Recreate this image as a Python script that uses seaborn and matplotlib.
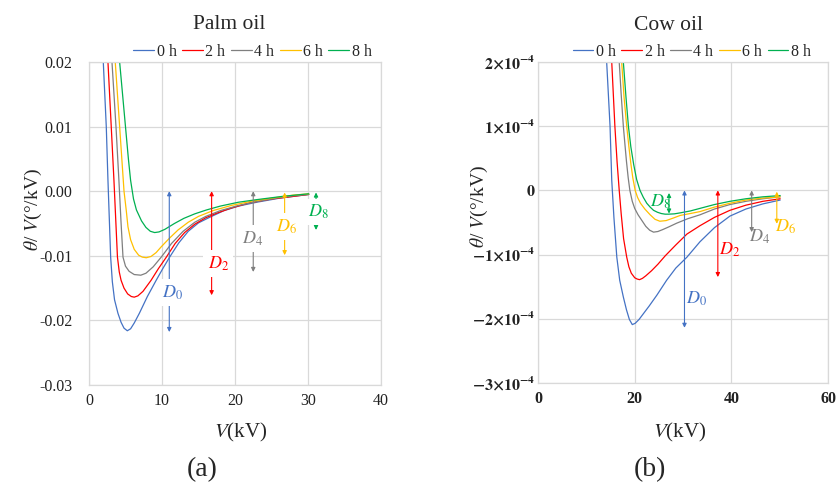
import matplotlib
matplotlib.use("Agg")
import matplotlib.pyplot as plt
import pandas as pd
import seaborn as sns

# ---- data ------------------------------------------------------------------
hours = ["0 h", "2 h", "4 h", "6 h", "8 h"]
colors = ["#4472C4", "#FF0000", "#7F7F7F", "#FFC000", "#00B050"]

# Palm oil, theta/V in deg/kV
palm_0h_v = [1.96, 2.37, 2.6, 2.97, 3.2, 3.5, 3.97, 4.4, 4.8, 5.25, 5.7, 6.2, 6.9, 8.0, 9.2, 10.1, 11.05, 12.3, 13.6, 15.0, 16.6, 18.5, 20.5, 23.0, 26.0, 28.0, 30.1]
palm_0h_y = [0.020, 0.010, 0.0017, -0.0102, -0.0140, -0.0168, -0.0189, -0.0203, -0.0212, -0.0216, -0.0213, -0.0204, -0.0189, -0.0163, -0.0138, -0.0120, -0.0102, -0.0080, -0.0062, -0.0049, -0.0040, -0.0030, -0.0023, -0.0017, -0.0011, -0.0008, -0.0005]
palm_2h_v = [2.6, 3.05, 3.42, 3.9, 4.15, 4.4, 4.8, 5.3, 5.8, 6.2, 6.7, 7.4, 8.5, 9.5, 10.6, 11.8, 13.1, 14.5, 16.0, 17.5, 19.5, 22.0, 25.0, 28.0, 30.1]
palm_2h_y = [0.020, 0.010, 0.0017, -0.0102, -0.0125, -0.0138, -0.0150, -0.0159, -0.0163, -0.0164, -0.0162, -0.0155, -0.0138, -0.0120, -0.0102, -0.0081, -0.0064, -0.0051, -0.0041, -0.0034, -0.0026, -0.0018, -0.0012, -0.0008, -0.0005]
palm_4h_v = [3.15, 3.7, 4.1, 4.4, 4.66, 5.0, 5.5, 6.2, 7.1, 7.8, 8.8, 9.9, 11.3, 12.9, 14.5, 16.0, 18.0, 20.5, 23.0, 26.0, 28.0, 30.1]
palm_4h_y = [0.020, 0.010, 0.0017, -0.0050, -0.0102, -0.0116, -0.0124, -0.0129, -0.0130, -0.0127, -0.0117, -0.0102, -0.0081, -0.0062, -0.0048, -0.0039, -0.0030, -0.0022, -0.0016, -0.0010, -0.0007, -0.0005]
palm_6h_v = [3.6, 4.2, 4.8, 5.1, 5.34, 5.7, 6.2, 6.8, 7.3, 7.85, 8.5, 9.2, 9.9, 11.0, 12.2, 13.6, 15.0, 17.0, 19.5, 22.5, 25.5, 28.0, 30.1]
palm_6h_y = [0.020, 0.010, 0.000, -0.0029, -0.0055, -0.0075, -0.0090, -0.0099, -0.0102, -0.0103, -0.0101, -0.0095, -0.0086, -0.0073, -0.0060, -0.0048, -0.0039, -0.0030, -0.0022, -0.0015, -0.0010, -0.0006, -0.0004]
palm_8h_v = [4.2, 4.6, 5.0, 5.4, 5.7, 6.1, 6.5, 7.2, 7.8, 8.4, 9.0, 9.6, 10.4, 11.7, 13.0, 14.5, 16.1, 18.0, 20.5, 23.0, 26.5, 30.1]
palm_8h_y = [0.020, 0.015, 0.010, 0.005, 0.0017, -0.0012, -0.0029, -0.0046, -0.0056, -0.0062, -0.0064, -0.0063, -0.0059, -0.0050, -0.0042, -0.0035, -0.0029, -0.0023, -0.0017, -0.0013, -0.0008, -0.0004]

# Cow oil, theta/V in units of 1e-4 deg/kV
cow_0h_v = [14.2, 14.9, 15.25, 15.7, 16.3, 16.9, 17.65, 18.3, 18.9, 19.5, 20.1, 20.9, 21.8, 23.0, 24.6, 26.6, 28.5, 30.8, 33.5, 36.5, 39.7, 43.0, 46.5, 50.1]
cow_0h_y = [2.0, 1.0, 0.16, -0.42, -1.04, -1.40, -1.66, -1.86, -2.01, -2.09, -2.07, -2.01, -1.92, -1.80, -1.63, -1.40, -1.21, -1.04, -0.80, -0.58, -0.40, -0.29, -0.21, -0.15]
cow_2h_v = [15.25, 15.9, 16.35, 16.8, 17.2, 17.7, 18.35, 18.8, 19.3, 20.0, 20.5, 21.0, 21.6, 22.3, 23.5, 24.8, 26.3, 28.5, 30.8, 33.5, 36.5, 39.7, 43.0, 46.5, 50.1]
cow_2h_y = [2.0, 1.0, 0.45, 0.0, -0.36, -0.75, -1.04, -1.19, -1.29, -1.36, -1.38, -1.39, -1.37, -1.33, -1.25, -1.15, -1.02, -0.85, -0.68, -0.55, -0.42, -0.31, -0.23, -0.17, -0.13]
cow_4h_v = [16.8, 17.2, 17.65, 18.0, 18.3, 18.65, 19.0, 19.5, 20.0, 20.7, 21.5, 22.3, 23.1, 23.9, 24.8, 25.8, 27.0, 28.7, 31.0, 33.5, 36.5, 39.7, 43.0, 46.5, 50.1]
cow_4h_y = [2.0, 1.5, 1.0, 0.7, 0.45, 0.2, 0.0, -0.17, -0.28, -0.38, -0.47, -0.56, -0.62, -0.65, -0.64, -0.61, -0.57, -0.51, -0.44, -0.38, -0.29, -0.22, -0.17, -0.13, -0.10]
cow_6h_v = [17.3, 17.8, 18.35, 18.8, 19.2, 19.6, 20.1, 20.6, 21.2, 22.1, 23.2, 24.2, 25.2, 26.5, 28.0, 29.4, 31.5, 33.5, 36.5, 39.7, 43.0, 46.5, 50.1]
cow_6h_y = [2.0, 1.45, 1.0, 0.68, 0.42, 0.2, 0.0, -0.11, -0.20, -0.29, -0.38, -0.45, -0.48, -0.47, -0.43, -0.39, -0.36, -0.33, -0.26, -0.20, -0.15, -0.12, -0.10]
cow_8h_v = [17.65, 18.2, 18.7, 19.2, 19.8, 20.4, 21.1, 21.8, 22.5, 23.2, 23.9, 24.7, 25.5, 26.3, 27.0, 28.2, 29.4, 31.5, 33.5, 36.5, 39.7, 43.0, 46.5, 50.1]
cow_8h_y = [2.0, 1.45, 1.0, 0.68, 0.40, 0.17, 0.0, -0.11, -0.20, -0.26, -0.31, -0.34, -0.36, -0.37, -0.37, -0.365, -0.35, -0.32, -0.28, -0.22, -0.17, -0.13, -0.10, -0.08]

# D_n arrows: x position, top, bottom, label position
palm_arrow_x = [11.0, 16.8, 22.5, 26.8, 31.1]
palm_arrow_top = [0.0, 0.0, 0.0, -0.0002, -0.0002]
palm_arrow_bot = [-0.0218, -0.0161, -0.0125, -0.0099, -0.0060]
palm_label_x = [11.5, 17.7, 22.4, 27.1, 31.4]
palm_label_y = [-0.0157, -0.0112, -0.0073, -0.0055, -0.0032]

cow_arrow_x = [30.3, 37.2, 44.2, 49.4, 27.1]
cow_arrow_top = [0.0, 0.0, 0.0, -0.02, -0.04]
cow_arrow_bot = [-2.14, -1.35, -0.65, -0.52, -0.36]
cow_label_x = [32.8, 39.6, 45.8, 51.3, 25.4]
cow_label_y = [-1.69, -0.93, -0.72, -0.57, -0.17]

palm_yticks = [0.02, 0.01, 0.0, -0.01, -0.02, -0.03]
palm_ylabels = ["0.02", "0.01", "0.00", "-0.01", "-0.02", "-0.03"]
palm_xticks = [0, 10, 20, 30, 40]
cow_yticks = [2, 1, 0, -1, -2, -3]
cow_ylabels = [r"$\mathbf{2{\times}10^{-4}}$", r"$\mathbf{1{\times}10^{-4}}$", r"$\mathbf{0}$",
               r"$\mathbf{-1{\times}10^{-4}}$", r"$\mathbf{-2{\times}10^{-4}}$", r"$\mathbf{-3{\times}10^{-4}}$"]
cow_xticks = [0, 20, 40, 60]


def long_table(vs, ys):
    rows = []
    for h, v, y in zip(hours, vs, ys):
        rows += [{"V": a, "val": b, "hour": h} for a, b in zip(v, y)]
    return pd.DataFrame(rows)


palm = long_table([palm_0h_v, palm_2h_v, palm_4h_v, palm_6h_v, palm_8h_v],
                  [palm_0h_y, palm_2h_y, palm_4h_y, palm_6h_y, palm_8h_y])
cow = long_table([cow_0h_v, cow_2h_v, cow_4h_v, cow_6h_v, cow_8h_v],
                 [cow_0h_y, cow_2h_y, cow_4h_y, cow_6h_y, cow_8h_y])

sns.set_style("white")
plt.rcParams["font.family"] = ["Liberation Serif", "DejaVu Serif"]
plt.rcParams["mathtext.fontset"] = "stix"

fig = plt.figure(figsize=(8.37, 4.86), dpi=100)
ax1 = fig.add_axes([0.1063, 0.2078, 0.3489, 0.6646])
ax2 = fig.add_axes([0.6428, 0.2119, 0.3465, 0.6605])

grid = "#d9d9d9"
for ax, df in ((ax1, palm), (ax2, cow)):
    sns.lineplot(data=df, x="V", y="val", hue="hour", palette=colors, estimator=None,
                 sort=False, lw=0.9, ax=ax)
    ax.grid(True, color=grid, lw=0.9)
    for s in ax.spines.values():
        s.set_color(grid)
        s.set_linewidth(0.9)
    ax.tick_params(length=0, labelsize=11.5, colors="#222222")
    ax.set_xlabel("")
    ax.set_ylabel("")

ax1.set_xlim(0, 40)
ax1.set_ylim(-0.03, 0.02)
ax1.set_xticks(palm_xticks)
ax1.set_yticks(palm_yticks)
ax1.set_yticklabels(palm_ylabels)
ax1.tick_params(axis="y", pad=12)
ax1.tick_params(axis="x", pad=6)

ax2.set_xlim(0, 60)
ax2.set_ylim(-3, 2)
ax2.set_xticks(cow_xticks)
ax2.set_yticks(cow_yticks)
ax2.set_yticklabels(cow_ylabels)
ax2.tick_params(axis="y", pad=2)
ax2.tick_params(axis="x", pad=6)
for t in ax2.get_xticklabels():
    t.set_fontweight("bold")

for ax, xs, tops, bots, lx, ly, boxed in (
        (ax1, palm_arrow_x, palm_arrow_top, palm_arrow_bot, palm_label_x, palm_label_y, True),
        (ax2, cow_arrow_x, cow_arrow_top, cow_arrow_bot, cow_label_x, cow_label_y, False)):
    for i, c in enumerate(colors):
        ax.annotate("", xy=(xs[i], bots[i]), xytext=(xs[i], tops[i]),
                    arrowprops=dict(arrowstyle="<|-|>", color=c, lw=0.8,
                                    mutation_scale=6, shrinkA=0, shrinkB=0))
        bbox = dict(facecolor="white", edgecolor="none", pad=3) if boxed else None
        ax.text(lx[i], ly[i], rf"$D_{{{2 * i}}}$", color=c, fontsize=13,
                ha="center", va="center", bbox=bbox)

for ax, tx, title, lgx in ((ax1, 0.48, "Palm oil", 0.56), (ax2, 0.45, "Cow oil", 0.53)):
    ax.text(tx, 1.115, title, transform=ax.transAxes, ha="center", va="center", fontsize=15.5)
    sns.move_legend(ax, "center", bbox_to_anchor=(lgx, 1.031), ncol=5, frameon=False,
                    title=None, fontsize=11.5, handlelength=1.3, handletextpad=0.15,
                    columnspacing=0.35, borderaxespad=0)

ylab = r"$\theta$/ $V$(°/kV)"
fig.text(0.040, 0.568, ylab, rotation=90, ha="center", va="center", fontsize=14)
fig.text(0.573, 0.575, ylab, rotation=90, ha="center", va="center", fontsize=14)
fig.text(0.288, 0.111, r"$V$(kV)", ha="center", va="center", fontsize=15)
fig.text(0.812, 0.111, r"$V$(kV)", ha="center", va="center", fontsize=15)
fig.text(0.241, 0.033, "(a)", ha="center", va="center", fontsize=20)
fig.text(0.777, 0.033, "(b)", ha="center", va="center", fontsize=20)

fig.savefig("out.png", dpi=100, facecolor="white")
